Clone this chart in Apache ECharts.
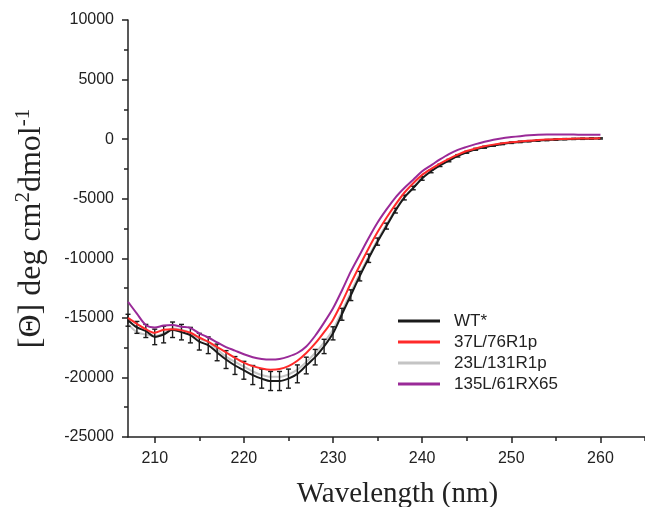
<!DOCTYPE html>
<html><head><meta charset="utf-8">
<script src="https://cdn.jsdelivr.net/npm/echarts@6/dist/echarts.min.js"></script>
<style>html,body{margin:0;padding:0;background:#fff}#c{width:645px;height:507px}</style>
</head><body><div id="c"></div>
<script>
const wavelengths = [207,208,209,210,211,212,213,214,215,216,217,218,219,220,221,222,223,224,225,226,227,228,229,230,231,232,233,234,235,236,237,238,239,240,241,242,243,244,245,246,247,248,249,250,251,252,253,254,255,256,257,258,259,260];
const wt = [-15200,-15800,-16100,-16600,-16400,-16000,-16200,-16450,-17000,-17300,-17900,-18500,-19000,-19400,-19800,-20100,-20300,-20300,-20100,-19700,-19000,-18300,-17400,-16300,-14700,-13100,-11500,-10000,-8600,-7300,-6000,-4900,-4100,-3300,-2700,-2200,-1800,-1400,-1100,-850,-680,-530,-400,-300,-230,-170,-120,-80,-40,0,20,30,50,60];
const wtErr = [500,500,550,650,700,650,650,650,700,700,700,750,750,750,800,800,800,800,800,750,700,650,600,550,500,450,400,350,300,250,200,200,150,150,120,100,100,100,80,80,80,60,60,60,60,50,50,50,50,50,50,50,50,50];
const r37 = [-15000,-15500,-15950,-16250,-16000,-15950,-16050,-16250,-16650,-17000,-17450,-17900,-18350,-18750,-19050,-19250,-19350,-19300,-19050,-18600,-17950,-17150,-16200,-15150,-13700,-12100,-10600,-9150,-7800,-6600,-5500,-4500,-3700,-3000,-2500,-2050,-1650,-1300,-1000,-780,-600,-460,-350,-260,-190,-130,-80,-40,-10,20,40,50,60,70];
const r23 = [-15500,-16200,-16400,-16500,-16300,-15900,-16000,-16250,-16750,-17050,-17650,-18250,-18700,-19100,-19500,-19800,-19950,-19950,-19750,-19350,-18700,-17950,-17050,-16000,-14450,-12850,-11300,-9850,-8450,-7150,-5900,-4850,-4050,-3250,-2650,-2150,-1750,-1380,-1080,-830,-660,-510,-390,-290,-220,-160,-110,-70,-30,0,20,30,50,60];
const r135 = [-13650,-14650,-15600,-15800,-15650,-15600,-15750,-15850,-16300,-16650,-17050,-17450,-17750,-18050,-18300,-18450,-18500,-18450,-18250,-17950,-17400,-16500,-15400,-14200,-12700,-11100,-9700,-8300,-7000,-5900,-4900,-4100,-3400,-2700,-2200,-1700,-1250,-900,-650,-420,-220,-50,80,170,250,320,370,390,390,390,380,370,360,360];
const seriesNames = ['WT*','37L/76R1p','23L/131R1p','135L/61RX65'];
const xMajorTicks = [210,220,230,240,250,260];
const xMinorTicks = [215,225,235,245,255,265];

const pair = arr => wavelengths.map((w,i)=>[w,arr[i]]);
const errData = wavelengths.map((w,i)=>[w, wt[i]-wtErr[i], wt[i]+wtErr[i]]);

const chart = echarts.init(document.getElementById('c'));
const axisCol = '#222';
const sans = 'Liberation Sans, Arial, sans-serif';
const serif = 'Liberation Serif, Times New Roman, serif';
chart.setOption({
  animation:false,
  grid:{left:128,right:0,top:20,bottom:70,containLabel:false,outerBoundsMode:'none'},
  legend:{
    orient:'vertical', left:393, top:307, itemGap:3, itemWidth:42, itemHeight:3,
    icon:'rect',
    textStyle:{fontFamily:sans, fontSize:17, lineHeight:18, color:'#222', padding:[0,0,0,9]},
    data:seriesNames
  },
  xAxis:[{
    type:'value', min:207, max:265,
    name:'Wavelength (nm)', nameLocation:'middle', nameGap:43,
    nameTextStyle:{fontFamily:serif, fontSize:29, color:'#222', padding:[0,0,0,22]},
    axisLine:{show:true,onZero:false,lineStyle:{color:axisCol,width:1.5}},
    axisTick:{show:true,inside:false,length:6,lineStyle:{color:axisCol,width:1.5},customValues:xMajorTicks},
    axisLabel:{customValues:xMajorTicks,margin:14,fontFamily:sans,fontSize:16,color:'#222'},
    splitLine:{show:false}
  },{
    type:'value', min:207, max:265, position:'bottom',
    axisLine:{show:false,onZero:false},
    axisTick:{show:true,length:4,lineStyle:{color:axisCol,width:1.5},customValues:xMinorTicks},
    axisLabel:{show:false},
    splitLine:{show:false}
  }],
  yAxis:{
    type:'value', min:-25000, max:10000, interval:5000,
    name:'[Θ] deg cm{sup|2}dmol{sup|-1}', nameLocation:'middle', nameGap:77, nameRotate:90,
    nameTextStyle:{fontFamily:serif, fontSize:32, color:'#222',
      rich:{sup:{fontFamily:serif, fontSize:21, color:'#222', verticalAlign:'top', padding:[0,0,17,0]}}},
    axisLine:{show:true,lineStyle:{color:axisCol,width:1.5}},
    axisTick:{show:true,length:6,lineStyle:{color:axisCol,width:1.5}},
    minorTick:{show:true,splitNumber:2,length:4,lineStyle:{color:axisCol,width:1.5}},
    axisLabel:{margin:14,fontFamily:sans,fontSize:16,color:'#222',formatter:v=>String(v)},
    splitLine:{show:false}
  },
  series:[
    {name:'23L/131R1p',type:'line',data:pair(r23),showSymbol:false,smooth:0.3,lineStyle:{color:'#c4c4c4',width:2},itemStyle:{color:'#c4c4c4'},z:2},
    {name:'WT*',type:'line',data:pair(wt),showSymbol:false,smooth:0.3,lineStyle:{color:'#1a1a1a',width:2},itemStyle:{color:'#1a1a1a'},z:3},
    {name:'WT* err',type:'custom',data:errData,z:3,
      renderItem:(params,api)=>{
        const x=api.value(0), lo=api.coord([x,api.value(1)]), hi=api.coord([x,api.value(2)]);
        const cw=2.5;
        return {type:'group',children:[
          {type:'line',shape:{x1:lo[0],y1:lo[1],x2:hi[0],y2:hi[1]},style:{stroke:'#1a1a1a',lineWidth:1.4}},
          {type:'line',shape:{x1:lo[0]-cw,y1:lo[1],x2:lo[0]+cw,y2:lo[1]},style:{stroke:'#1a1a1a',lineWidth:1.4}},
          {type:'line',shape:{x1:hi[0]-cw,y1:hi[1],x2:hi[0]+cw,y2:hi[1]},style:{stroke:'#1a1a1a',lineWidth:1.4}}
        ]};
      }},
    {name:'37L/76R1p',type:'line',data:pair(r37),showSymbol:false,smooth:0.3,lineStyle:{color:'#ff2a2a',width:2},itemStyle:{color:'#ff2a2a'},z:4},
    {name:'135L/61RX65',type:'line',data:pair(r135),showSymbol:false,smooth:0.3,lineStyle:{color:'#9a2a98',width:2},itemStyle:{color:'#9a2a98'},z:5}
  ]
});
</script></body></html>
